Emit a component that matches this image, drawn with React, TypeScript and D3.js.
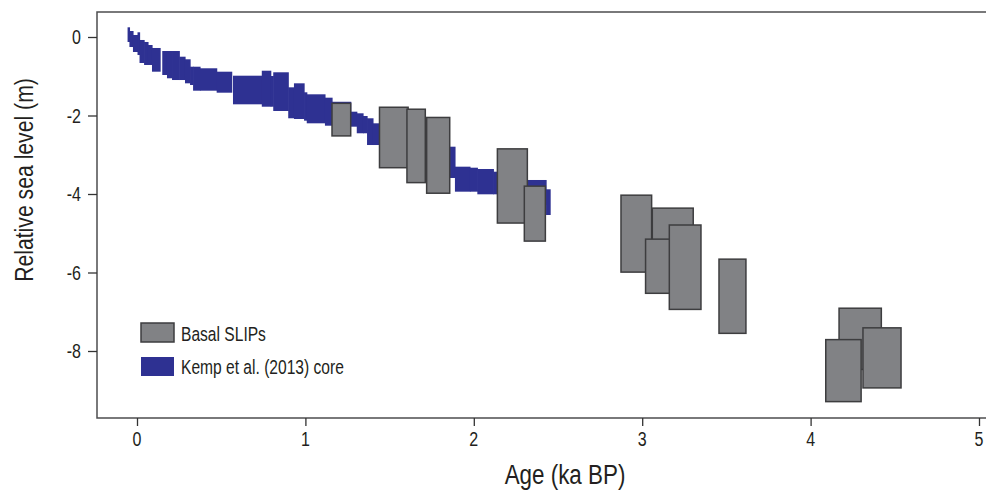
import React, { useEffect, useRef } from "react";
import * as d3 from "d3";

// Kemp et al. (2013) core: stepped band, one entry per step
const coreAgeStart = [-0.056, -0.045, -0.024, 0.003, 0.015, 0.042, 0.065, 0.089, 0.15, 0.178, 0.208, 0.251, 0.285, 0.315, 0.333, 0.374, 0.473, 0.57, 0.741, 0.794, 0.809, 0.898, 0.932, 0.992, 1.008, 1.116, 1.158, 1.269, 1.305, 1.342, 1.366, 1.401, 1.439, 1.621, 1.841, 1.888, 1.977, 2.021, 2.116, 2.156, 2.429];
const coreAgeEnd = [-0.045, -0.024, 0.003, 0.015, 0.042, 0.065, 0.089, 0.137, 0.178, 0.208, 0.251, 0.285, 0.315, 0.333, 0.374, 0.473, 0.562, 0.741, 0.794, 0.809, 0.898, 0.932, 0.992, 1.008, 1.116, 1.158, 1.269, 1.305, 1.342, 1.366, 1.401, 1.439, 1.621, 1.841, 1.888, 1.977, 2.021, 2.116, 2.156, 2.429, 2.453];
const coreUpper = [0.247, 0.153, 0.051, 0.12, -0.076, -0.127, -0.204, -0.28, -0.357, -0.357, -0.357, -0.502, -0.568, -0.757, -0.757, -0.797, -0.884, -0.986, -0.859, -0.994, -0.899, -1.282, -1.18, -1.409, -1.46, -1.546, -1.65, -1.903, -1.944, -2.013, -2.071, -2.199, -2.318, -2.573, -2.795, -3.304, -3.33, -3.363, -3.432, -3.643, -3.88];
const coreLower = [-0.127, -0.255, -0.382, -0.459, -0.662, -0.713, -0.713, -0.884, -0.968, -1.052, -1.096, -1.096, -1.18, -1.223, -1.368, -1.368, -1.419, -1.715, -1.776, -1.776, -1.885, -2.071, -2.089, -2.132, -2.199, -2.26, -2.27, -2.285, -2.453, -2.453, -2.752, -2.752, -2.879, -3.261, -3.592, -3.941, -3.941, -4.008, -4.008, -4.28, -4.535];

// Basal SLIPs: age range and RSL range of each box
const slipAgeMin = [1.158, 1.44, 1.603, 1.72, 2.14, 2.3, 2.874, 3.06, 3.02, 3.161, 3.456, 4.169, 4.09, 4.311];
const slipAgeMax = [1.269, 1.61, 1.712, 1.857, 2.318, 2.425, 3.056, 3.303, 3.166, 3.349, 3.616, 4.42, 4.3, 4.537];
const slipTop = [-1.69, -1.79, -1.84, -2.05, -2.85, -3.8, -4.03, -4.36, -5.15, -4.79, -5.66, -6.91, -7.71, -7.41];
const slipBottom = [-2.52, -3.33, -3.71, -3.98, -4.74, -5.2, -5.99, -6.3, -6.53, -6.94, -7.55, -8.47, -9.29, -8.94];

const xTicks = [0, 1, 2, 3, 4, 5];
const yTicks = [0, -2, -4, -6, -8];
const legendLabels = ["Basal SLIPs", "Kemp et al. (2013) core"];

const BLUE = "#2e3192";
const GREY = "#818285";
const EDGE = "#3d3d3f";
const FONT = "'Liberation Sans', Arial, sans-serif";
const SQUEEZE = 0.8; // condensed look

const Chart = () => {
  const svgRef = useRef(null);
  const width = 987;
  const height = 497;

  useEffect(() => {
    const svg = d3.select(svgRef.current);
    svg.selectAll("*").remove();

    const frame = { left: 97, right: 986, top: 12, bottom: 418 };

    const xScale = d3.scaleLinear().domain([0, 5]).range([137, 979]);
    const yScale = d3.scaleLinear().domain([0, -8]).range([37, 351]);

    // text with horizontal squeeze, optionally rotated
    const addText = (x, y, str, size, anchor, rotate = 0) => {
      svg
        .append("g")
        .attr("transform", `translate(${x},${y}) rotate(${rotate}) scale(${SQUEEZE},1)`)
        .append("text")
        .attr("text-anchor", anchor)
        .style("font-family", FONT)
        .style("font-size", size + "px")
        .attr("fill", "#231f20")
        .text(str);
    };

    // core band
    const g = svg.append("g");
    g.selectAll(".core")
      .data(coreAgeStart.map((a, i) => i))
      .enter()
      .append("rect")
      .attr("x", (i) => xScale(coreAgeStart[i]))
      .attr("width", (i) => xScale(coreAgeEnd[i]) - xScale(coreAgeStart[i]) + 0.6)
      .attr("y", (i) => yScale(coreUpper[i]))
      .attr("height", (i) => yScale(coreLower[i]) - yScale(coreUpper[i]))
      .attr("fill", BLUE);

    // SLIP boxes
    g.selectAll(".slip")
      .data(slipAgeMin.map((a, i) => i))
      .enter()
      .append("rect")
      .attr("x", (i) => xScale(slipAgeMin[i]))
      .attr("width", (i) => xScale(slipAgeMax[i]) - xScale(slipAgeMin[i]))
      .attr("y", (i) => yScale(slipTop[i]))
      .attr("height", (i) => yScale(slipBottom[i]) - yScale(slipTop[i]))
      .attr("fill", GREY)
      .attr("stroke", EDGE)
      .attr("stroke-width", 1.5);

    // frame
    svg
      .append("path")
      .attr(
        "d",
        `M${frame.right},${frame.top}H${frame.left}V${frame.bottom}H${frame.right}`
      )
      .attr("fill", "none")
      .attr("stroke", "#4d4d4f")
      .attr("stroke-width", 1.5);

    // x axis ticks
    const xAxis = svg
      .append("g")
      .attr("transform", `translate(0,${frame.bottom})`)
      .call(d3.axisBottom(xScale).tickValues(xTicks).tickSize(8).tickFormat(() => ""));
    xAxis.select(".domain").remove();
    xAxis.selectAll("line").attr("stroke", "#333").attr("stroke-width", 1.3);
    xTicks.forEach((t) => addText(xScale(t), 446, String(t), 20, "middle"));

    // y axis ticks
    const yAxis = svg
      .append("g")
      .attr("transform", `translate(${frame.left},0)`)
      .call(d3.axisLeft(yScale).tickValues(yTicks).tickSize(9).tickFormat(() => ""));
    yAxis.select(".domain").remove();
    yAxis.selectAll("line").attr("stroke", "#333").attr("stroke-width", 1.3);
    yTicks.forEach((t) => addText(81, yScale(t) + 7, String(t), 20, "end"));

    // axis titles
    addText(565, 484, "Age (ka BP)", 28, "middle");
    addText(33, 180, "Relative sea level (m)", 26.5, "middle", -90);

    // legend
    const legend = svg.append("g").attr("transform", "translate(141,323)");
    legendLabels.forEach((label, i) => {
      legend
        .append("rect")
        .attr("x", 0)
        .attr("y", i * 34)
        .attr("width", 33)
        .attr("height", 19)
        .attr("fill", i === 0 ? GREY : BLUE)
        .attr("stroke", i === 0 ? EDGE : "none")
        .attr("stroke-width", 1.5);
      addText(181, 340.5 + i * 33.5, label, 19.5, "start");
    });
  }, []);

  return (
    <svg
      ref={svgRef}
      width={width}
      height={height}
      style={{ position: "absolute", left: 0, top: 0, background: "#fff" }}
    ></svg>
  );
};

export default function App() {
  return <Chart />;
}
